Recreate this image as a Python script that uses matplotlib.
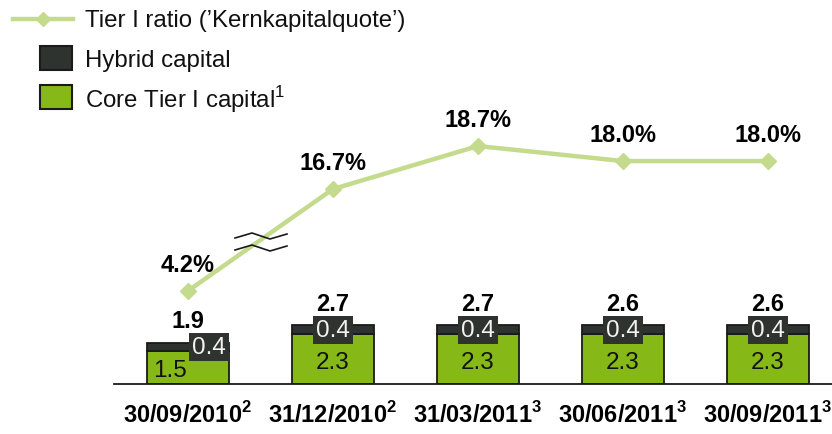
import numpy as np
import matplotlib.pyplot as plt
from matplotlib.lines import Line2D
from matplotlib.patches import Rectangle

plt.rcParams['font.family'] = ['Liberation Sans', 'DejaVu Sans']
plt.rcParams['mathtext.fontset'] = 'custom'
plt.rcParams['mathtext.rm'] = 'Liberation Sans'
plt.rcParams['mathtext.bf'] = 'Liberation Sans:bold'

# Datos
fechas = [r'30/09/2010$^{\mathbf{2}}$', r'31/12/2010$^{\mathbf{2}}$', r'31/03/2011$^{\mathbf{3}}$',
          r'30/06/2011$^{\mathbf{3}}$', r'30/09/2011$^{\mathbf{3}}$']
core_tier1 = [1.5, 2.3, 2.3, 2.3, 2.3]
hybrid = [0.4, 0.4, 0.4, 0.4, 0.4]
totales = [1.9, 2.7, 2.7, 2.6, 2.6]
tier1_ratio = [4.2, 16.7, 18.7, 18.0, 18.0]

VERDE = '#86B817'
OSCURO = '#2E332F'
LINEA = '#C4DA8C'
BORDE = '#1A1A1A'

W, H = 832, 435


def fx(px):
    return px / W


def fy(py):
    return 1 - py / H


fig = plt.figure(figsize=(W / 100, H / 100), dpi=100)

# Eje de barras
ax = fig.add_axes([fx(114), fy(385), fx(832) - fx(114), fy(0) - fy(385)])
x = np.arange(len(fechas))
ancho = 0.566
ax.set_xlim(-0.51, 4.441)
ax.set_ylim(0, 385 / 21.7)

ax.bar(x, core_tier1, width=ancho, color=VERDE, edgecolor=BORDE, linewidth=1.3, zorder=2)
ax.bar(x, hybrid, bottom=core_tier1, width=ancho, color=OSCURO, edgecolor=BORDE,
       linewidth=1.3, zorder=2)

for spine in ['top', 'left', 'right']:
    ax.spines[spine].set_visible(False)
ax.spines['bottom'].set_linewidth(1.3)
ax.spines['bottom'].set_color(BORDE)
ax.set_yticks([])
ax.set_xticks(x)
ax.set_xticklabels(fechas, fontsize=17, fontweight='bold')
ax.tick_params(axis='x', length=0, pad=12)

for i in range(len(x)):
    base = core_tier1[i]
    # total encima de la barra
    ax.annotate(f'{totales[i]:.1f}', (x[i], base + hybrid[i]), xytext=(0, 11),
                textcoords='offset points', ha='center', va='baseline',
                fontsize=17, fontweight='bold', zorder=4)
    # etiqueta del capital híbrido
    if i == 0:
        hx, ha = x[i] + ancho / 2 - 0.02, 'right'
    else:
        hx, ha = x[i], 'center'
    ax.text(hx, base + hybrid[i] / 2, f'{hybrid[i]:.1f}', ha=ha, va='center',
            fontsize=17.5, color='#F2F2F2', zorder=4,
            bbox=dict(boxstyle='square,pad=0.12', fc=OSCURO, ec='none'))
    # etiqueta del core tier I
    if i == 0:
        cx, ha = x[i] - ancho / 2 + 0.04, 'left'
    else:
        cx, ha = x[i], 'center'
    ax.text(cx, base / 2 - 0.12, f'{base:.1f}', ha=ha, va='center',
            fontsize=17.5, color='#111111', zorder=4)

# Eje de la ratio con escala cortada
def adelante(v):
    v = np.asarray(v, dtype=float)
    return np.where(v >= 14, v, 14 - (14 - v) * 0.208)


def inversa(u):
    u = np.asarray(u, dtype=float)
    return np.where(u >= 14, u, 14 - (14 - u) / 0.208)


ax2 = ax.twinx()
ax2.set_yscale('function', functions=(adelante, inversa))
ax2.set_ylim(float(inversa(7.63)), 25.54)
ax2.set_yticks([])
ax2.yaxis.set_minor_locator(plt.NullLocator())
for spine in ax2.spines.values():
    spine.set_visible(False)

ax2.plot(x, tier1_ratio, color=LINEA, linewidth=3.2, marker='D', markersize=8,
         markerfacecolor=LINEA, markeredgecolor=LINEA, zorder=3)
for xi, r in zip(x, tier1_ratio):
    ax2.annotate(f'{r:.1f}%', (xi, r), xytext=(0, 19), textcoords='offset points',
                 ha='center', va='center', fontsize=17, fontweight='bold')

# Marcas de corte del eje
for dy in (0, 12):
    pts_x = [235, 252, 270, 287]
    pts_y = [239 + dy, 234 + dy, 240 + dy, 235 + dy]
    fig.add_artist(Line2D([fx(p) for p in pts_x], [fy(p) for p in pts_y],
                          color=BORDE, linewidth=1.2))

# Leyenda
fig.add_artist(Line2D([fx(13), fx(73)], [fy(20), fy(20)], color=LINEA, linewidth=3.2))
fig.add_artist(Line2D([fx(43)], [fy(20)], color=LINEA, marker='D', markersize=7))
fig.text(fx(85), fy(21), "Tier I ratio (’Kernkapitalquote’)", fontsize=17.3,
         va='center', ha='left', color='#111111')
fig.add_artist(Rectangle((fx(40), fy(71)), fx(72) - fx(40), fy(47) - fy(71),
                         transform=fig.transFigure, fc=OSCURO, ec=BORDE, lw=1.5))
fig.text(fx(85), fy(61), 'Hybrid capital', fontsize=17.3, va='center', ha='left',
         color='#111111')
fig.add_artist(Rectangle((fx(40), fy(110)), fx(72) - fx(40), fy(86) - fy(110),
                         transform=fig.transFigure, fc=VERDE, ec=BORDE, lw=1.5))
fig.text(fx(85), fy(100), r'Core Tier I capital$^{\mathrm{1}}$', fontsize=17.3,
         va='center', ha='left', color='#111111')

fig.savefig('out.png', dpi=100)
